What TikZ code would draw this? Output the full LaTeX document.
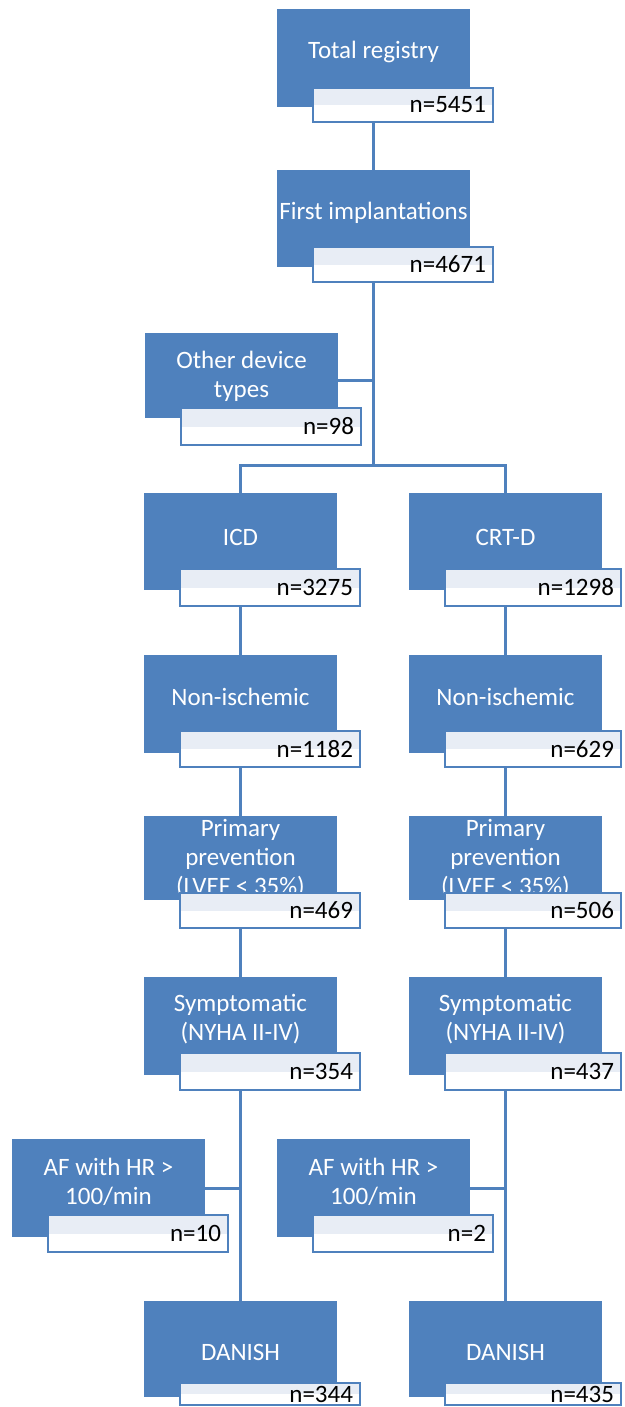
\documentclass[tikz,border=0pt]{standalone}
\usepackage{fontspec}
\setmainfont{Carlito}
\usetikzlibrary{calc}
\definecolor{boxblue}{HTML}{4F81BD}
\definecolor{bandcol}{HTML}{E8EDF5}
\tikzset{
  bluebox/.style={fill=boxblue, draw=none, minimum width=193pt, inner sep=0pt},
  boxtext/.style={text=white, font=\fontsize{25}{29}\selectfont, align=center, inner sep=0pt},
  countbox/.style={draw=boxblue, line width=2pt, fill=white,
    inner xsep=7pt, inner ysep=0pt, align=right, text=black,
    font=\fontsize{25}{29}\selectfont,
    path picture={\fill[bandcol] (path picture bounding box.north west) rectangle (path picture bounding box.east);}},
  conn/.style={draw=boxblue, line width=3pt}
}
\def\lblw{180}
\newcommand\flowbox[9]{%
  \pgfmathsetmacro\fbh{#4-#3}%
  \pgfmathsetmacro\fbc{(#3+#4)/2}%
  \pgfmathsetmacro\fbx{#2+96.5}%
  \pgfmathsetmacro\flh{#8-#7}%
  \pgfmathsetmacro\flc{(#7+#8)/2}%
  \pgfmathsetmacro\flx{#2+36+\lblw/2}%
  \pgfmathsetmacro\fltw{\lblw-14}%
  \node[bluebox, minimum height=\fbh pt] (#1) at (\fbx,\fbc) {};
  \node[boxtext] (#1t) at (\fbx,#5) {#6};
  \node[countbox, minimum height=\flh pt, minimum width=\lblw pt, text width=\fltw pt] (#1n) at (\flx,\flc) {#9};
}
\begin{document}
\begin{tikzpicture}[x=1pt, y=-1pt]
\useasboundingbox (0,0) rectangle (624,1407);
\clip (0,0) rectangle (624,1407);
\flowbox{tot}{277}{9}{107}{52}{Total registry}{88}{122}{n=5451}
\flowbox{first}{277}{170}{267}{213}{First implantations}{247}{282}{n=4671}
\flowbox{other}{145}{333}{418}{376}{Other device\\types}{408}{445}{n=98}
\flowbox{icd}{144}{493}{590}{537}{ICD}{569}{606}{n=3275}
\flowbox{nisa}{144}{655}{753}{697}{Non-ischemic}{731}{767}{n=1182}
\flowbox{ppa}{144}{816}{900}{859}{Primary\\prevention\\(LVEF < 35\%)}{893}{928}{n=469}
\flowbox{syma}{144}{977}{1075}{1019}{Symptomatic\\(NYHA II-IV)}{1053}{1090}{n=354}
\flowbox{afa}{12}{1139}{1237}{1182}{AF with HR >\\100/min}{1215}{1252}{n=10}
\flowbox{afb}{277}{1139}{1237}{1182}{AF with HR >\\100/min}{1215}{1252}{n=2}
\flowbox{dana}{144}{1301}{1397}{1352}{DANISH}{1383}{1405}{n=344}
\def\lblw{176}
\flowbox{crt}{409}{493}{590}{537}{CRT-D}{569}{606}{n=1298}
\flowbox{nisb}{409}{655}{753}{697}{Non-ischemic}{731}{767}{n=629}
\flowbox{ppb}{409}{816}{900}{859}{Primary\\prevention\\(LVEF < 35\%)}{893}{928}{n=506}
\flowbox{symb}{409}{977}{1075}{1019}{Symptomatic\\(NYHA II-IV)}{1053}{1090}{n=437}
\flowbox{danb}{409}{1301}{1397}{1352}{DANISH}{1383}{1405}{n=435}
% connectors
\coordinate (j1) at (373.5,465);
\draw[conn] (totn.south -| tot) -- (first.north);
\draw[conn] (firstn.south -| first) -- (j1);
\draw[conn] ([yshift=-5pt]other.east) -- ([yshift=-5pt]other.east -| first);
\draw[conn] (icd.north) |- (j1) -| (crt.north);
\draw[conn] (icdn.south -| icd) -- (nisa.north);
\draw[conn] (crtn.south -| crt) -- (nisb.north);
\draw[conn] (nisan.south -| nisa) -- (ppa.north);
\draw[conn] (nisbn.south -| nisb) -- (ppb.north);
\draw[conn] (ppan.south -| ppa) -- (syma.north);
\draw[conn] (ppbn.south -| ppb) -- (symb.north);
\draw[conn] (syman.south -| syma) -- (dana.north);
\draw[conn] (symbn.south -| symb) -- (danb.north);
\draw[conn] (afa.east) -- (afa.east -| syma);
\draw[conn] (afb.east) -- (afb.east -| symb);
\end{tikzpicture}
\end{document}
